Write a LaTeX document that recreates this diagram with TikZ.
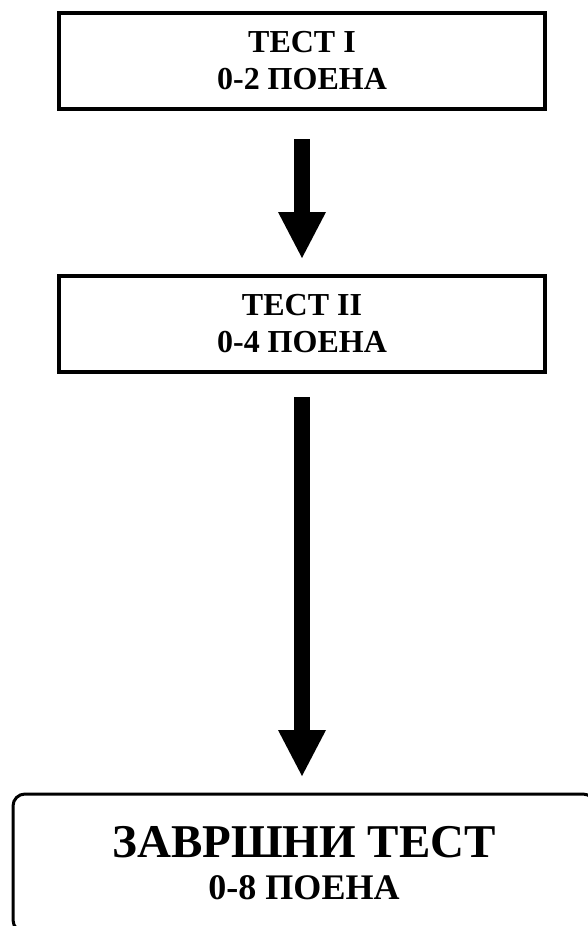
\documentclass[tikz,border=0pt]{standalone}
\usepackage{fontspec}
\setmainfont{Liberation Serif}
\usetikzlibrary{arrows.meta,positioning}

\begin{document}
\begin{tikzpicture} [
      x = 1pt, y = -1pt,
      testbox/.style = { draw, line width = 4pt, inner sep = 0, outer sep = 0,
        minimum width = 486pt, minimum height = 96pt, align = center,
        font = \bfseries\fontsize{32}{37}\selectfont },
      finalbox/.style = { draw, line width = 3pt, rounded corners = 12pt, inner sep = 0, outer sep = 0,
        minimum width = 582pt, minimum height = 138pt, align = center,
        font = \bfseries\fontsize{36}{42}\selectfont },
      bigarrow/.style = { line width = 16pt, -{Triangle[length = 46pt, width = 48pt, line width = 0pt]} }
      ]

  \useasboundingbox (0,0) rectangle (587,926);

  \node [testbox] (test1) at (302,61) {ТЕСТ I\\0-2 ПОЕНА};
  \node [testbox, below = 167pt of test1] (test2) {ТЕСТ II\\0-4 ПОЕНА};
  \node [finalbox, below = 422pt of test2, xshift = 2pt] (final) {{\fontsize{47}{47}\selectfont ЗАВРШНИ ТЕСТ}\\0-8 ПОЕНА};

  \draw [bigarrow, shorten <= 30pt, shorten >= 18pt] (test1) -- (test2);
  \draw [bigarrow, shorten <= 25pt, shorten >= 18pt] (test2.south) -- (test2.south |- final.north);
\end{tikzpicture}
\end{document}
